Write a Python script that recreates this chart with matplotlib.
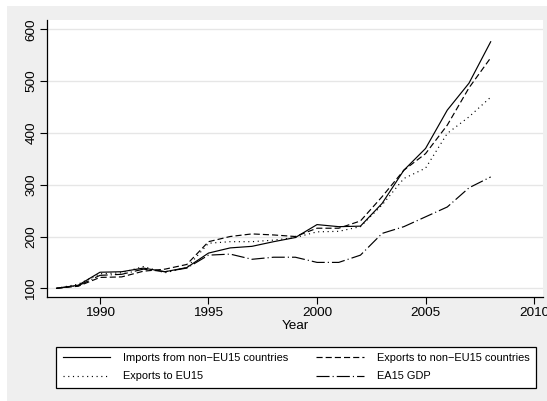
import matplotlib

matplotlib.use("Agg")

import matplotlib.pyplot as plt
from matplotlib.patches import Rectangle

YEARS = list(range(1988, 2009))

IMPORTS_NON_EU15 = [100, 106, 131, 132, 139, 132, 140, 168, 178, 181, 190,
                    198, 223, 219, 220, 264, 328, 370, 444, 496, 576]
EXPORTS_NON_EU15 = [100, 104, 121, 122, 133, 137, 146, 190, 200, 205, 203,
                    200, 216, 216, 230, 277, 328, 360, 415, 487, 545]
EXPORTS_EU15 = [100, 108, 128, 130, 142, 130, 140, 187, 190, 190, 193,
                198, 209, 210, 219, 261, 312, 332, 399, 431, 469]
EA15_GDP = [100, 105, 125, 127, 137, 132, 139, 164, 166, 156, 160,
            160, 150, 150, 164, 206, 219, 238, 257, 294, 315]

LABELS = [
    "Imports from non\u2212EU15 countries",
    "Exports to non\u2212EU15 countries",
    "Exports to EU15",
    "EA15 GDP",
]

X_TICKS = [1990, 1995, 2000, 2005, 2010]
Y_TICKS = [100, 200, 300, 400, 500, 600]

W, H = 547, 401

plt.rcParams["font.family"] = ["Liberation Sans", "DejaVu Sans"]
plt.rcParams["lines.scale_dashes"] = False

fig = plt.figure(figsize=(W / 100, H / 100), dpi=100)
fig.patch.set_facecolor("white")

# light gray graph region behind the white plot region
fig.patches.append(Rectangle((7 / W, 0), 1, (H - 6) / H, transform=fig.transFigure,
                             facecolor="#efefef", edgecolor="none", zorder=-5))

ax = fig.add_axes([47 / W, (H - 297) / H, (543 - 47) / W, (297 - 20) / H])
ax.set_facecolor("white")

lw = 0.85
series = [
    (IMPORTS_NON_EU15, dict(linestyle="-")),
    (EXPORTS_NON_EU15, dict(dashes=(4.4, 2.2))),
    (EXPORTS_EU15, dict(dashes=(0.8, 2.6))),
    (EA15_GDP, dict(dashes=(9.4, 2.2, 0.8, 2.2))),
]
handles = []
for (vals, style), label in zip(series, LABELS):
    (h,) = ax.plot(YEARS, vals, color="black", linewidth=lw, label=label, **style)
    handles.append(h)

ax.set_xlim(1987.56, 2010.41)
ax.set_ylim(83.2, 618)
ax.set_xticks(X_TICKS)
ax.set_yticks(Y_TICKS)
ax.set_yticklabels([str(v) for v in Y_TICKS], rotation=90, va="center")
ax.tick_params(axis="both", labelsize=9.7, length=5, width=0.8, color="black")
ax.tick_params(axis="y", pad=2)
ax.tick_params(axis="x", pad=2)
ax.grid(axis="y", color="#e6e6e6", linewidth=1.0)
ax.set_axisbelow(True)
ax.set_xlabel("Year", fontsize=9.7, labelpad=1)

for spine in ("top", "right"):
    ax.spines[spine].set_visible(False)
for spine in ("left", "bottom"):
    ax.spines[spine].set_linewidth(0.9)
    ax.spines[spine].set_color("black")

# two-column legend, filled row by row
order = [0, 2, 1, 3]
leg = fig.legend(
    [handles[i] for i in order],
    [LABELS[i] for i in order],
    ncol=2,
    loc="lower left",
    bbox_to_anchor=(56 / W, (H - 388) / H, (536 - 56) / W, (388 - 342) / H),
    mode="expand",
    fontsize=7.9,
    frameon=True,
    fancybox=False,
    edgecolor="black",
    facecolor="white",
    framealpha=1,
    handlelength=4.3,
    handletextpad=1.2,
    borderpad=0.6,
    labelspacing=0.75,
    borderaxespad=0,
)
leg.get_frame().set_linewidth(0.9)

fig.savefig("out.png", dpi=100)
